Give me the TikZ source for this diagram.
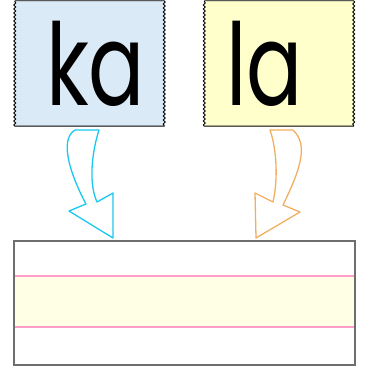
\documentclass[tikz,border=0pt]{standalone}
\usepackage{fontspec}
\setmainfont{Poppins}
\usetikzlibrary{decorations.pathmorphing, positioning}
\definecolor{cardblue}{HTML}{DAEAF6}
\definecolor{cardyellow}{HTML}{FFFFCC}
\definecolor{arrblue}{HTML}{1BC8EE}
\definecolor{arrorange}{HTML}{F2AE60}
\definecolor{frame}{HTML}{6E6E6E}
\definecolor{rule}{HTML}{FF9CC8}
\definecolor{band}{HTML}{FFFFE5}
\newcommand{\syl}[1]{\scalebox{0.73}[1]{#1}}

\begin{document}
\begin{tikzpicture}[x=1pt, y=-1pt,
  card/.style={minimum width=149pt, minimum height=125pt, inner ysep=0pt,
               inner xsep=#1, text width=149pt-2*#1, align=left,
               font=\fontsize{114}{114}\selectfont},
  cardedge/.style={draw=black, line width=0.9pt},
  wavy/.style={decoration={snake, segment length=4pt, amplitude=1pt}},
  bentarr/.style={line width=1.3pt, line join=round}
]
  \useasboundingbox (0,0) rectangle (366,371);

  % syllable cards
  \node[card=31pt, fill=cardblue]   (ka) at (89.5, 63.5) {\syl{ka}};
  \node[card=22pt, fill=cardyellow] (la) at (279, 63.5)  {\syl{la}};
  \foreach \c in {ka, la}
    \draw[cardedge, wavy] (\c.north west) -- (\c.north east)
      decorate {-- (\c.south east)} -- (\c.south west)
      decorate {-- (\c.north west)};

  % writing line
  \node[minimum width=341pt, minimum height=124pt, inner sep=0pt] (line) at (184.5, 303) {};
  \fill[band] (line.west |- 0,276) rectangle (line.east |- 0,327);
  \draw[rule, line width=1.6pt] (line.west |- 0,276) -- (line.east |- 0,276)
                                (line.west |- 0,327) -- (line.east |- 0,327);
  \draw[frame, line width=2pt] (line.north west) rectangle (line.south east);

  % bent arrows
  \draw[bentarr, arrblue] (75,130) -- (99,130)
    .. controls (91,155) and (89,185) .. (97,202)
    -- (113,193) -- (113,238) -- (69,211) -- (86,204)
    .. controls (72,178) and (58,140) .. (75,130) -- cycle;
  \draw[bentarr, arrorange] (270,130) -- (293,130)
    .. controls (309,145) and (300,170) .. (283,205)
    -- (300,212) -- (256,238) -- (255,193) -- (273,202)
    .. controls (278,180) and (277,150) .. (270,130) -- cycle;
\end{tikzpicture}
\end{document}
